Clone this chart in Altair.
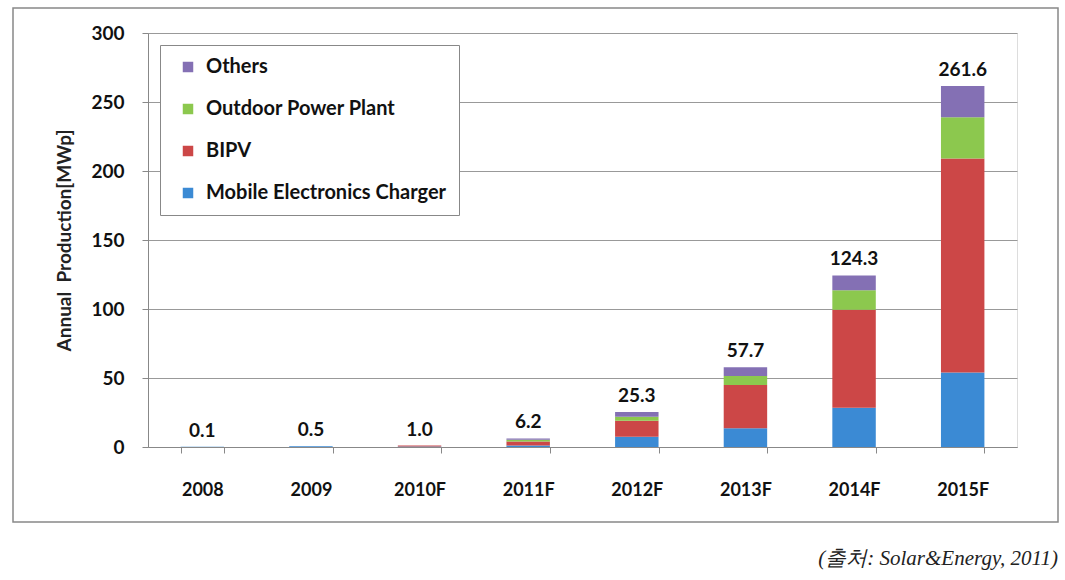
import altair as alt
import pandas as pd

years = ["2008", "2009", "2010F", "2011F", "2012F", "2013F", "2014F", "2015F"]
mobile = [0.1, 0.5, 0.3, 1.0, 7.5, 13.5, 28.5, 54.0]
bipv = [0.0, 0.0, 0.7, 3.0, 11.5, 31.5, 71.0, 155.0]
outdoor = [0.0, 0.0, 0.0, 1.2, 3.0, 6.5, 14.0, 30.0]
others = [0.0, 0.0, 0.0, 1.0, 3.3, 6.2, 10.8, 22.6]
totals = [0.1, 0.5, 1.0, 6.2, 25.3, 57.7, 124.3, 261.6]

series_names = ["Others", "Outdoor Power Plant", "BIPV", "Mobile Electronics Charger"]
series_colors = ["#8470b4", "#8cc84e", "#cc4747", "#3b8ad4"]
stack_rank = {"Mobile Electronics Charger": 0, "BIPV": 1, "Outdoor Power Plant": 2, "Others": 3}

rows = []
for i, y in enumerate(years):
    for name, vals in [("Mobile Electronics Charger", mobile), ("BIPV", bipv),
                       ("Outdoor Power Plant", outdoor), ("Others", others)]:
        rows.append({"year": y, "series": name, "value": vals[i], "rank": stack_rank[name]})
df = pd.DataFrame(rows)
tot_df = pd.DataFrame({"year": years, "total": totals,
                       "label": [f"{t:.1f}" for t in totals]})

FONT = "Lato"
W, H = 869, 414

xenc = alt.X("year:N", sort=years, title=None,
             scale=alt.Scale(paddingInner=0.6, paddingOuter=0.3),
             axis=alt.Axis(labelAngle=0, labelFont=FONT, labelFontSize=18, labelFontWeight="bold",
                           labelColor="#111", labelPadding=28, tickBand="extent", tickSize=6,
                           tickColor="#888", domainColor="#888"))

bars = alt.Chart(df).mark_bar().encode(
    x=xenc,
    y=alt.Y("value:Q", stack="zero", title="Annual\u00a0 Production[MWp]",
            scale=alt.Scale(domain=[0, 300]),
            axis=alt.Axis(values=[0, 50, 100, 150, 200, 250, 300], labelFont=FONT, labelFontSize=19,
                          labelFontWeight="bold", labelColor="#111", labelPadding=18, tickSize=6,
                          tickColor="#888", domainColor="#888", gridColor="#999",
                          titleFont=FONT, titleFontSize=19, titleFontWeight="bold",
                          titleColor="#222", titlePadding=16)),
    color=alt.Color("series:N", scale=alt.Scale(domain=series_names, range=series_colors),
                    legend=alt.Legend(title=None, orient="none", legendX=12, legendY=12,
                                      labelFont=FONT, labelFontSize=20, labelFontWeight="bold",
                                      labelColor="#111", symbolType="square", symbolSize=110,
                                      symbolStrokeWidth=0, rowPadding=22, padding=12,
                                      labelOffset=8, strokeColor="#888", fillColor="white",
                                      symbolOffset=6, labelLimit=400)),
    order=alt.Order("rank:Q", sort="ascending"),
)

labels = alt.Chart(tot_df).mark_text(font=FONT, fontSize=19, fontWeight="bold", color="#111",
                                     baseline="bottom", dy=-6).encode(
    x=alt.X("year:N", sort=years),
    y=alt.Y("total:Q"),
    text="label:N",
)

frame_df = pd.DataFrame({"k": [0]})
frame = alt.Chart(frame_df).mark_rect(filled=False, stroke="#888", strokeWidth=1.5).encode(
    x=alt.value(-135), x2=alt.value(910), y=alt.value(-25), y2=alt.value(489))

source = alt.Chart(frame_df).mark_text(font="Liberation Serif", fontSize=21, fontStyle="italic",
                                       align="right", baseline="middle", color="#222").encode(
    x=alt.value(910), y=alt.value(526), text=alt.value("(출처: Solar&Energy, 2011)"))

chart = alt.layer(frame, bars, labels, source).resolve_scale(x="shared").properties(
    width=W, height=H,
    autosize=alt.AutoSizeParams(type="none"),
    padding={"left": 148, "top": 33, "right": 48, "bottom": 133},
).configure_view(stroke="#888").configure(background="white")

chart.save("out.html", embed_options={"renderer": "svg", "actions": False})
